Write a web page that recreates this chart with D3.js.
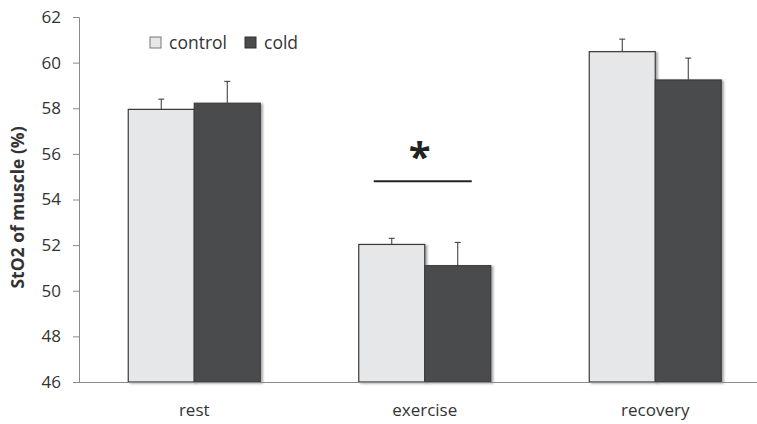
<!DOCTYPE html>
<html>
<head>
<meta charset="utf-8">
<script src="https://cdn.jsdelivr.net/npm/d3@7"></script>
<style>
  body { margin: 0; background: #fff; }
  svg text { font-family: "Open Sans", Lato, sans-serif; fill: #333; }
</style>
</head>
<body>
<div id="chart"></div>
<script>
// data
const phases = ['rest', 'exercise', 'recovery'];
const series = ['control', 'cold'];
const controlMean = [57.95, 52.03, 60.48];
const controlErr = [0.45, 0.27, 0.55];
const coldMean = [58.22, 51.1, 59.24];
const coldErr = [0.96, 1.02, 0.96];
const yTicks = [46, 48, 50, 52, 54, 56, 58, 60, 62];
const sigLevel = 54.8; // height of the bracket over exercise

const width = 757, height = 424;
const plotLeft = 79, plotTop = 17, plotBottom = 382;

const svg = d3.select('#chart').append('svg')
    .attr('width', width).attr('height', height);

const defs = svg.append('defs');
const f = defs.append('filter').attr('id', 'shadow')
    .attr('x', '-10%').attr('y', '-10%').attr('width', '130%').attr('height', '130%');
f.append('feDropShadow').attr('dx', 2).attr('dy', 1).attr('stdDeviation', 1.2)
    .attr('flood-color', '#000').attr('flood-opacity', 0.35);

const x = d3.scaleBand().domain(phases).range([plotLeft, plotLeft + 3 * 230.5]);
const xs = d3.scaleBand().domain(series).range([x.bandwidth() / 2 - 66, x.bandwidth() / 2 + 66]);
const y = d3.scaleLinear().domain([46, 62]).range([plotBottom, plotTop]);

// y axis
const yAxis = svg.append('g').attr('transform', `translate(${plotLeft},0)`)
    .call(d3.axisLeft(y).tickValues(yTicks).tickSize(6).tickPadding(12));
yAxis.select('.domain').attr('stroke', '#8a8a8a');
yAxis.selectAll('.tick line').attr('stroke', '#8a8a8a');
yAxis.selectAll('.tick text').attr('font-size', 17).style('fill', '#333');

svg.append('text')
    .attr('transform', `translate(24,${(plotTop + plotBottom) / 2 + 8}) rotate(-90)`)
    .attr('text-anchor', 'middle')
    .attr('font-size', 17.5).attr('font-weight', 'bold')
    .text('StO2 of muscle (%)');

const rows = phases.map((p, i) => ({
    phase: p,
    vals: [
        { s: 'control', v: controlMean[i], e: controlErr[i] },
        { s: 'cold', v: coldMean[i], e: coldErr[i] }
    ]
}));

const groups = svg.selectAll('g.phase').data(rows).enter().append('g')
    .attr('class', 'phase')
    .attr('transform', d => `translate(${x(d.phase)},0)`);

// error bars (upper only)
groups.selectAll('g.err').data(d => d.vals).enter().append('g').attr('class', 'err')
    .each(function(d) {
        const cx = xs(d.s) + xs.bandwidth() / 2;
        const g = d3.select(this);
        g.append('line').attr('x1', cx).attr('x2', cx)
            .attr('y1', y(d.v)).attr('y2', y(d.v + d.e))
            .attr('stroke', '#333').attr('stroke-width', 1);
        g.append('line').attr('x1', cx - 3).attr('x2', cx + 3)
            .attr('y1', y(d.v + d.e)).attr('y2', y(d.v + d.e))
            .attr('stroke', '#333').attr('stroke-width', 1);
    });

groups.selectAll('rect').data(d => d.vals).enter().append('rect')
    .attr('x', d => xs(d.s))
    .attr('y', d => y(d.v))
    .attr('width', xs.bandwidth())
    .attr('height', d => y(46) - y(d.v))
    .attr('fill', d => d.s === 'control' ? '#e6e7e8' : '#4a4b4d')
    .attr('stroke', d => d.s === 'control' ? '#3a3a3a' : '#3e3e40')
    .attr('stroke-width', 1.2)
    .attr('filter', 'url(#shadow)');

// x axis
const xAxis = svg.append('g').attr('transform', `translate(0,${plotBottom})`)
    .call(d3.axisBottom(x).tickSize(0).tickPadding(22));
xAxis.select('.domain').attr('d', `M${plotLeft},0.5H${width}`).attr('stroke', '#8a8a8a');
xAxis.selectAll('.tick text').attr('font-size', 17).style('fill', '#333');

// significance marker over exercise
const ex = x('exercise') + x.bandwidth() / 2;
svg.append('line').attr('x1', ex - 51).attr('x2', ex + 47)
    .attr('y1', y(sigLevel)).attr('y2', y(sigLevel))
    .attr('stroke', '#222').attr('stroke-width', 2);
svg.append('text').attr('x', ex - 5).attr('y', y(sigLevel) - 10)
    .attr('text-anchor', 'middle').attr('font-size', 40).attr('font-weight', 'bold')
    .style('fill', '#222')
    .text('*');

// legend
const legend = svg.append('g').attr('transform', 'translate(150,37)');
const legItems = [{ s: 'control', x: 0 }, { s: 'cold', x: 95 }];
const li = legend.selectAll('g').data(legItems).enter().append('g')
    .attr('transform', d => `translate(${d.x},0)`);
li.append('rect').attr('width', 11).attr('height', 11)
    .attr('fill', d => d.s === 'control' ? '#e6e7e8' : '#4a4b4d')
    .attr('stroke', d => d.s === 'control' ? '#777' : '#333');
li.append('text').attr('x', 19).attr('y', 12).attr('font-size', 17.5).text(d => d.s);
</script>
</body>
</html>
